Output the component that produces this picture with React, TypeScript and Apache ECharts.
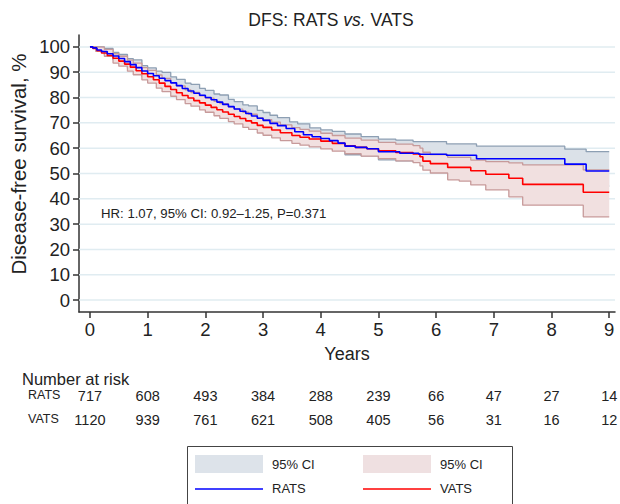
import React, { useEffect, useRef } from "react";
import * as echarts from "echarts";

const FONT = "'Liberation Sans', Arial, Helvetica, sans-serif";

const xTicks = [0, 1, 2, 3, 4, 5, 6, 7, 8, 9];
const yTicks = [0, 10, 20, 30, 40, 50, 60, 70, 80, 90, 100];

const riskRats = [717, 608, 493, 384, 288, 239, 66, 47, 27, 14];
const riskVats = [1120, 939, 761, 621, 508, 405, 56, 31, 16, 12];

// RATS Kaplan-Meier estimate
const ratsT = [0, 0.05, 0.12, 0.2, 0.3, 0.4, 0.5, 0.6, 0.7, 0.8, 0.9, 1.0, 1.1, 1.2, 1.3, 1.4, 1.5, 1.6, 1.7, 1.8, 1.9, 2.0, 2.1, 2.2, 2.3, 2.4, 2.5, 2.6, 2.7, 2.8, 2.9, 3.0, 3.12, 3.25, 3.4, 3.55, 3.7, 3.85, 4.0, 4.15, 4.3, 4.42, 4.6, 4.8, 5.0, 5.37, 5.7, 6.18, 6.7, 8.23, 8.6, 9.0];
const ratsS = [100, 99.6, 98.8, 98.2, 97.3, 96.4, 95.4, 94.2, 93.0, 91.8, 90.5, 89.5, 88.6, 87.6, 86.7, 85.8, 84.7, 83.6, 82.6, 81.7, 80.9, 80.0, 79.1, 78.2, 77.3, 76.4, 75.5, 74.6, 73.7, 72.7, 71.8, 71.0, 69.8, 68.9, 67.8, 66.5, 65.3, 64.5, 63.8, 63.0, 62.0, 60.8, 60.3, 59.8, 58.6, 58.0, 57.6, 57.2, 55.8, 53.7, 51.0, 51.0];

// RATS 95% CI
const ratsCiT = [0, 0.1, 0.25, 0.4, 0.5, 0.65, 0.75, 0.9, 1.0, 1.15, 1.25, 1.4, 1.5, 1.65, 1.75, 1.9, 2.0, 2.15, 2.25, 2.4, 2.5, 2.65, 2.75, 2.9, 3.0, 3.12, 3.25, 3.46, 3.6, 3.81, 4.0, 4.2, 4.42, 4.7, 5.0, 5.3, 5.6, 6.18, 6.7, 8.23, 8.6, 9.0];
const ratsHi = [100, 100, 99.4, 97.8, 97.0, 95.4, 94.9, 92.6, 91.7, 90.4, 89.9, 88.2, 87.2, 85.7, 85.2, 83.6, 82.8, 81.4, 81.0, 79.3, 78.4, 77.1, 76.7, 74.9, 74.1, 73.0, 72.1, 70.4, 69.6, 68.0, 67.2, 66.6, 65.6, 64.6, 63.6, 63.2, 62.6, 61.7, 60.8, 59.6, 58.6, 58.6];
const ratsLo = [100, 98.9, 97.0, 94.9, 93.7, 91.6, 90.9, 88.2, 87.1, 85.6, 85.1, 83.2, 82.0, 80.4, 79.8, 78.0, 77.1, 75.6, 75.2, 73.3, 72.4, 71.0, 70.5, 68.6, 67.8, 66.5, 65.6, 64.4, 63.2, 61.2, 60.3, 59.5, 57.4, 57.0, 55.4, 55.0, 54.6, 53.8, 52.3, 49.6, 45.0, 45.0];

// VATS Kaplan-Meier estimate
const vatsT = [0, 0.05, 0.12, 0.2, 0.3, 0.4, 0.5, 0.6, 0.7, 0.8, 0.9, 1.0, 1.1, 1.2, 1.3, 1.4, 1.5, 1.6, 1.7, 1.8, 1.9, 2.0, 2.1, 2.2, 2.3, 2.4, 2.5, 2.6, 2.7, 2.8, 2.9, 3.0, 3.15, 3.3, 3.5, 3.64, 3.8, 4.0, 4.2, 4.42, 4.6, 4.8, 5.0, 5.3, 5.6, 5.72, 5.77, 5.9, 6.2, 6.6, 6.86, 7.26, 7.5, 8.55, 9.0];
const vatsS = [100, 99.4, 98.5, 97.6, 96.6, 95.5, 94.4, 93.2, 92.0, 90.6, 89.4, 88.2, 87.0, 85.7, 84.4, 83.2, 81.9, 80.8, 79.8, 78.8, 77.9, 77.0, 76.1, 75.2, 74.3, 73.4, 72.5, 71.7, 70.8, 70.0, 69.0, 68.2, 67.2, 66.1, 65.0, 64.3, 63.6, 62.8, 61.9, 60.9, 60.3, 59.8, 59.0, 58.3, 57.7, 56.6, 54.9, 53.9, 52.4, 51.1, 49.7, 48.1, 45.7, 42.6, 42.6];

// VATS 95% CI
const vatsCiT = [0, 0.1, 0.25, 0.4, 0.5, 0.65, 0.75, 0.9, 1.0, 1.15, 1.25, 1.4, 1.5, 1.65, 1.75, 1.9, 2.0, 2.15, 2.25, 2.4, 2.5, 2.65, 2.75, 2.9, 3.0, 3.15, 3.3, 3.5, 3.64, 3.8, 4.0, 4.2, 4.42, 4.7, 5.0, 5.3, 5.6, 5.72, 5.77, 5.9, 6.2, 6.4, 6.6, 6.86, 7.26, 7.5, 8.55, 9.0];
const vatsHi = [100, 99.9, 99.0, 97.3, 96.3, 94.8, 93.6, 91.8, 90.7, 88.9, 87.6, 85.9, 84.6, 83.0, 82.0, 80.7, 79.8, 78.5, 77.6, 76.3, 75.4, 74.2, 73.4, 72.1, 71.3, 70.3, 69.2, 68.1, 67.4, 66.7, 65.9, 65.0, 64.0, 63.2, 62.3, 61.6, 61.0, 60.0, 58.4, 57.5, 56.4, 56.4, 55.3, 54.7, 54.2, 53.4, 51.4, 51.4];
const vatsLo = [100, 98.2, 96.3, 93.6, 92.4, 90.4, 89.0, 87.0, 85.7, 83.7, 82.3, 80.5, 79.2, 77.6, 76.6, 75.1, 74.2, 72.8, 71.8, 70.5, 69.6, 68.2, 67.4, 66.0, 65.1, 64.1, 63.0, 61.9, 61.2, 60.5, 59.7, 58.8, 57.8, 56.9, 55.9, 55.0, 54.3, 53.0, 51.3, 50.2, 47.5, 47.0, 45.5, 43.5, 40.8, 37.5, 32.9, 32.9];

const RATS_FILL = "#dbe1e8";
const VATS_FILL = "#f1e0e0";
const RATS_EDGE = "#8d9fb3";
const VATS_EDGE = "#c79a9a";
const TEXT = "#222";

function bandSeries(name: string, t: number[], lo: number[], hi: number[], fill: string, z: number) {
  return {
    type: "custom",
    name,
    z,
    silent: true,
    data: t.map((x, i) => [x, lo[i], hi[i]]),
    encode: { x: 0, y: [1, 2] },
    renderItem: (params: any, api: any) => {
      if (params.dataIndex !== 0) return null;
      const up: number[][] = [];
      const dn: number[][] = [];
      for (let i = 0; i < t.length; i++) {
        const tn = i < t.length - 1 ? t[i + 1] : t[i];
        up.push(api.coord([t[i], hi[i]]), api.coord([tn, hi[i]]));
        dn.push(api.coord([t[i], lo[i]]), api.coord([tn, lo[i]]));
      }
      return {
        type: "polygon",
        shape: { points: up.concat(dn.reverse()) },
        style: { fill, stroke: "none" },
      };
    },
  };
}

function stepLine(name: string, t: number[], v: number[], color: string, width: number, z: number) {
  return {
    type: "line",
    name,
    step: "end",
    z,
    silent: true,
    symbol: "none",
    data: t.map((x, i) => [x, v[i]]),
    lineStyle: { color, width },
  };
}

export default function App() {
  const ref = useRef<HTMLDivElement>(null);
  useEffect(() => {
    const chart = echarts.init(ref.current!, null, { renderer: "svg" });
    const axisCommon = {
      type: "value",
      axisLine: { show: true, onZero: false, lineStyle: { color: "#333", width: 1.5 } },
      splitLine: { show: false },
    };
    chart.setOption({
      animation: false,
      grid: { left: 79, right: 5, top: 35, bottom: 192, containLabel: false },
      xAxis: {
        ...axisCommon,
        min: -0.19,
        max: 9.1,
        axisTick: { show: true, inside: false, length: 6, customValues: xTicks, lineStyle: { color: "#333", width: 1.5 } },
        axisLabel: { customValues: xTicks, margin: 8, fontSize: 18.5, color: TEXT, fontFamily: FONT },
        name: "Years",
        nameLocation: "middle",
        nameGap: 33,
        nameTextStyle: { fontSize: 18, color: TEXT, fontFamily: FONT },
      },
      yAxis: {
        ...axisCommon,
        min: -4.7,
        max: 104.7,
        axisTick: { show: true, inside: false, length: 6, customValues: yTicks, lineStyle: { color: "#333", width: 1.5 } },
        axisLabel: { customValues: yTicks, margin: 9, fontSize: 18.5, color: TEXT, fontFamily: FONT },
      },
      series: [
        {
          type: "custom",
          name: "grid",
          z: 1,
          silent: true,
          data: yTicks.map((v) => [0, v]),
          encode: { x: 0, y: 1 },
          renderItem: (params: any, api: any) => {
            const y = api.coord([0, api.value(1)])[1];
            const cs = params.coordSys;
            return {
              type: "line",
              shape: { x1: cs.x, y1: y, x2: cs.x + cs.width, y2: y },
              style: { stroke: "#e0ecf1", lineWidth: 1.5 },
            };
          },
        },
        bandSeries("RATS 95% CI", ratsCiT, ratsLo, ratsHi, RATS_FILL, 2),
        stepLine("RATS upper", ratsCiT, ratsHi, RATS_EDGE, 1.3, 3),
        stepLine("RATS lower", ratsCiT, ratsLo, RATS_EDGE, 1.3, 3),
        bandSeries("VATS 95% CI", vatsCiT, vatsLo, vatsHi, VATS_FILL, 4),
        stepLine("VATS upper", vatsCiT, vatsHi, VATS_EDGE, 1.3, 5),
        stepLine("VATS lower", vatsCiT, vatsLo, VATS_EDGE, 1.3, 5),
        stepLine("VATS", vatsT, vatsS, "#ff0000", 1.6, 6),
        stepLine("RATS", ratsT, ratsS, "#0000ff", 1.6, 7),
      ],
    });

    const colX = xTicks.map((t) => (chart.convertToPixel({ gridIndex: 0 }, [t, 0]) as number[])[0]);
    const txt = (text: string, x: number, y: number, fontSize: number, align = "left", extra: any = {}) => ({
      type: "text",
      x,
      y,
      silent: true,
      style: { text, fontSize, fontFamily: FONT, fill: TEXT, align, verticalAlign: "middle", ...extra },
    });

    const graphic: any[] = [
      {
        type: "text",
        x: 331,
        y: 20,
        style: {
          text: "{a|DFS: RATS }{b|vs.}{a| VATS}",
          align: "center",
          verticalAlign: "middle",
          rich: {
            a: { fontSize: 17.5, fontFamily: FONT, fill: TEXT, color: TEXT },
            b: { fontSize: 17.5, fontFamily: FONT, fontStyle: "italic", fill: TEXT, color: TEXT },
          },
        },
      },
      {
        type: "text",
        x: 18,
        y: 164,
        rotation: Math.PI / 2,
        style: { text: "Disease-free survival, %", fontSize: 20.5, fontFamily: FONT, fill: TEXT, align: "center", verticalAlign: "middle" },
      },
      txt("HR: 1.07, 95% CI: 0.92\u20131.25, P=0.371", 101, 213, 13.2),
      txt("Number at risk", 22, 379, 16.5),
      txt("RATS", 28, 395, 12.5),
      txt("VATS", 28, 419, 12.5),
      ...riskRats.map((n, i) => txt(String(n), colX[i], 396, 14.5, "center")),
      ...riskVats.map((n, i) => txt(String(n), colX[i], 420, 14.5, "center")),
      {
        type: "rect",
        shape: { x: 187.5, y: 446.5, width: 325, height: 70 },
        style: { fill: "#fff", stroke: "#444", lineWidth: 1 },
      },
      { type: "rect", shape: { x: 195, y: 455, width: 68, height: 18 }, style: { fill: "#dde3ea" } },
      txt("95% CI", 272, 464, 13),
      { type: "rect", shape: { x: 363, y: 455, width: 68, height: 18 }, style: { fill: "#efe0e1" } },
      txt("95% CI", 440, 464, 13),
      { type: "line", shape: { x1: 195, y1: 489, x2: 263, y2: 489 }, style: { stroke: "#0000ff", lineWidth: 1.6 } },
      txt("RATS", 272, 488, 13),
      { type: "line", shape: { x1: 363, y1: 489, x2: 431, y2: 489 }, style: { stroke: "#ff0000", lineWidth: 1.6 } },
      txt("VATS", 440, 488, 13),
    ];
    chart.setOption({ graphic });

    return () => chart.dispose();
  }, []);
  return (
    <div
      ref={ref}
      style={{ position: "fixed", left: 0, top: 0, width: 620, height: 504, background: "#fff" }}
    />
  );
}
